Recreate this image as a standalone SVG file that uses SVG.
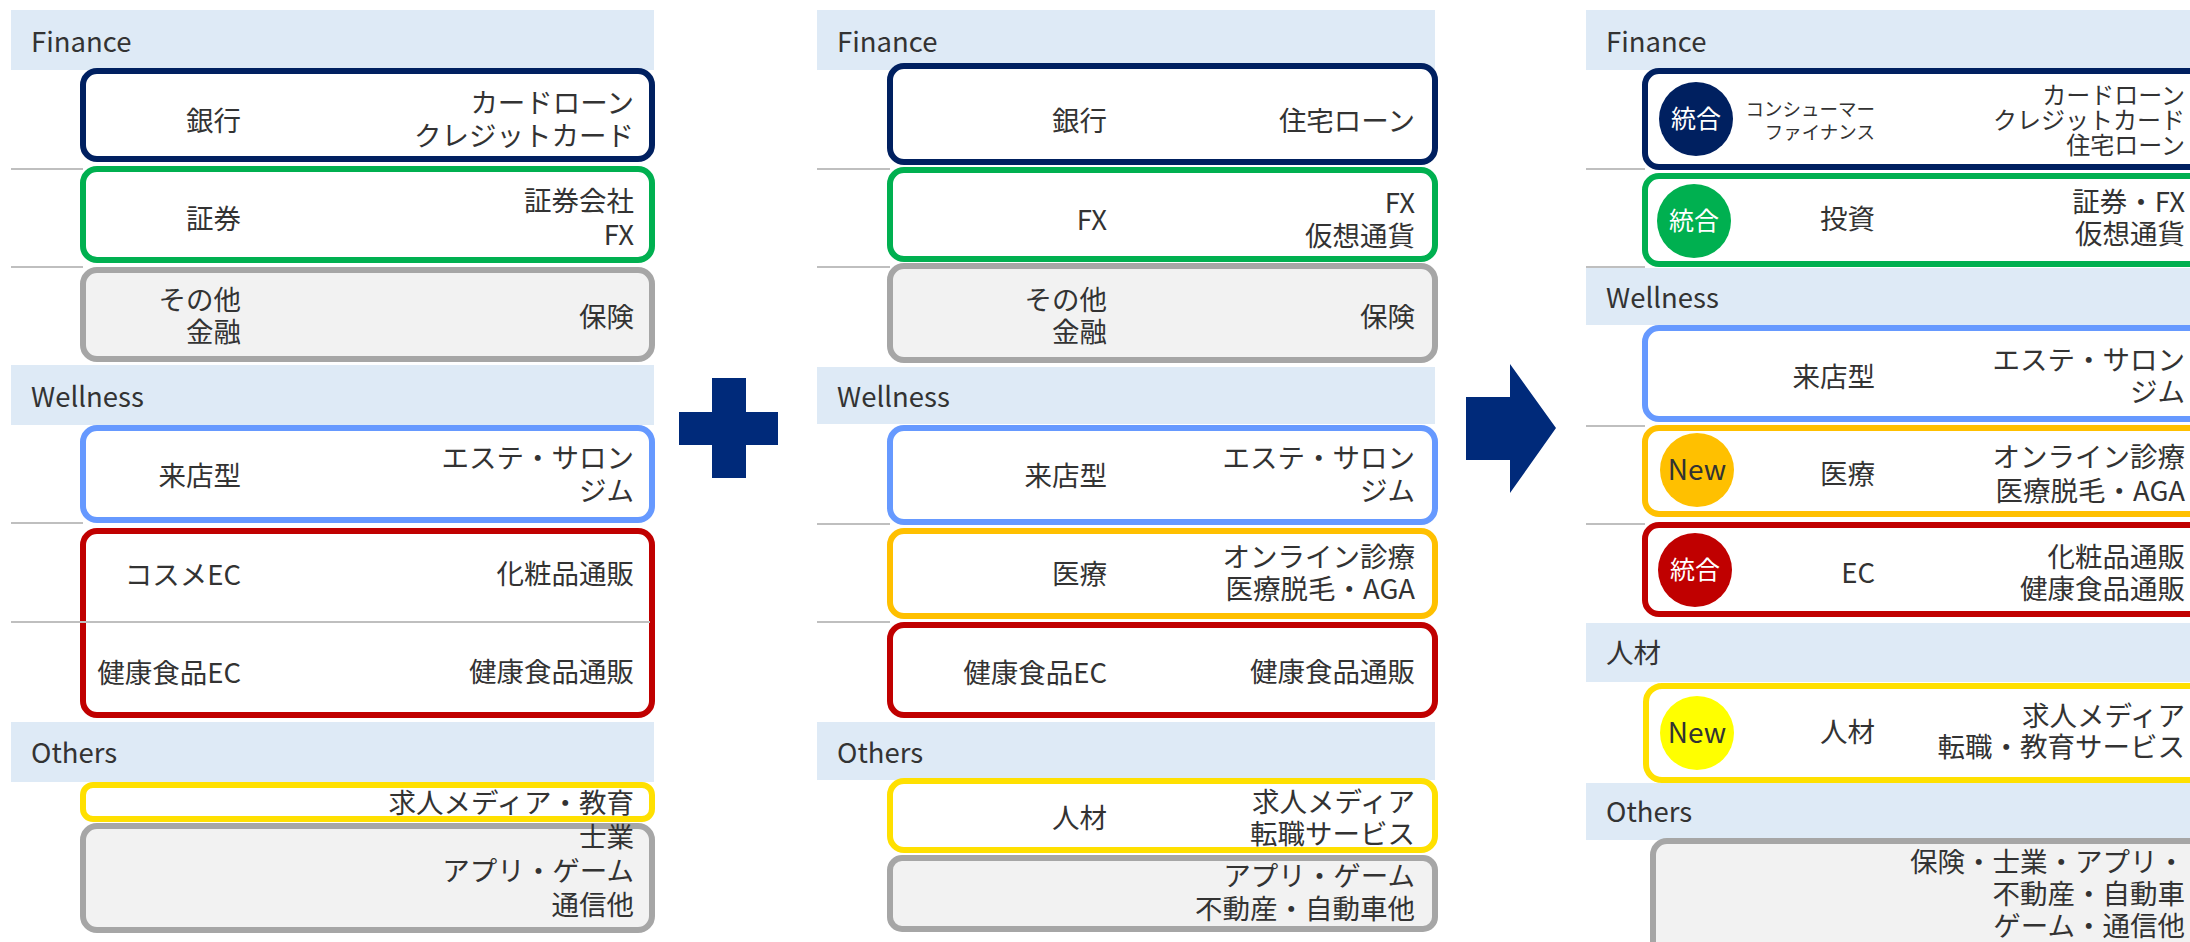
<svg xmlns="http://www.w3.org/2000/svg" width="2190" height="942" viewBox="0 0 2190 942">
<style>
text{font-family:"Noto Sans CJK JP","Noto Sans",sans-serif;fill:#333333;font-size:27.5px}
.band{fill:#DEEAF6}
.sep{stroke:#BFBFBF;stroke-width:2}
.box{fill:#FFFFFF;stroke-width:6}
.navy{stroke:#002060}.green{stroke:#00B050}.gray{stroke:#A6A6A6;fill:#F2F2F2}
.blue{stroke:#6699FF}.orange{stroke:#FFC000}.red{stroke:#C00000}.yel{stroke:#FFE000}
.r{text-anchor:end}
.c{text-anchor:middle}
.sm{font-size:24px}
.xs{font-size:18.5px}
.badge{font-size:25px}
.new{font-size:28px}
.w{fill:#FFFFFF}
.mark{fill:#002A7A}
</style>
<rect width="2190" height="942" fill="#FFFFFF"/>

<g id="col-left">
  <g id="l-finance"><rect class="band" x="11" y="10" width="643" height="60"/><text x="31" y="52">Finance</text></g>
  <g id="l-seps">
    <line class="sep" x1="11" y1="169" x2="83" y2="169"/>
    <line class="sep" x1="11" y1="267" x2="83" y2="267"/>
  </g>
  <g id="l-bank"><rect class="box navy" x="83" y="71" width="569" height="88" rx="14"/>
    <text class="r" x="241" y="131">銀行</text>
    <text class="r" x="634" y="113">カードローン</text><text class="r" x="634" y="146">クレジットカード</text></g>
  <g id="l-sec"><rect class="box green" x="83" y="169" width="569" height="91" rx="14"/>
    <text class="r" x="241" y="229">証券</text>
    <text class="r" x="634" y="211">証券会社</text><text class="r" x="634" y="245">FX</text></g>
  <g id="l-other-fin"><rect class="box gray" x="83" y="270" width="569" height="89" rx="14"/>
    <text class="r" x="241" y="310">その他</text><text class="r" x="241" y="342">金融</text>
    <text class="r" x="634" y="327">保険</text></g>
  <g id="l-wellness"><rect class="band" x="11" y="365" width="643" height="60"/><text x="31" y="407">Wellness</text></g>
  <line class="sep" x1="11" y1="523" x2="83" y2="523"/>
  <g id="l-store"><rect class="box blue" x="83" y="428" width="569" height="92" rx="14"/>
    <text class="r" x="241" y="486">来店型</text>
    <text class="r" x="634" y="468">エステ・サロン</text><text class="r" x="634" y="501">ジム</text></g>
  <g id="l-ec"><rect class="box red" x="83" y="531" width="569" height="184" rx="14"/>
    <line class="sep" x1="11" y1="622" x2="650" y2="622"/>
    <text class="r" x="241" y="585">コスメEC</text><text class="r" x="634" y="584">化粧品通販</text>
    <text class="r" x="241" y="683">健康食品EC</text><text class="r" x="634" y="682">健康食品通販</text></g>
  <g id="l-others"><rect class="band" x="11" y="722" width="643" height="60"/><text x="31" y="763">Others</text></g>
  <g id="l-job"><rect class="box yel" x="83" y="785" width="569" height="34" rx="10"/>
    <text class="r" x="634" y="813">求人メディア・教育</text></g>
  <g id="l-misc"><rect class="box gray" x="83" y="826" width="569" height="104" rx="14"/>
    <text class="r" x="634" y="847">士業</text><text class="r" x="634" y="881">アプリ・ゲーム</text><text class="r" x="634" y="915">通信他</text></g>
</g>

<g id="plus"><path class="mark" d="M712 378H746V412H778V445H746V478H712V445H679V412H712Z"/></g>

<g id="col-mid">
  <g id="m-finance"><rect class="band" x="817" y="10" width="618" height="60"/><text x="837" y="52">Finance</text></g>
  <g id="m-seps">
    <line class="sep" x1="817" y1="169" x2="890" y2="169"/>
    <line class="sep" x1="817" y1="267" x2="890" y2="267"/>
    <line class="sep" x1="817" y1="524" x2="890" y2="524"/>
    <line class="sep" x1="817" y1="622" x2="890" y2="622"/>
  </g>
  <g id="m-bank"><rect class="box navy" x="890" y="66" width="545" height="96" rx="14"/>
    <text class="r" x="1107" y="131">銀行</text><text class="r" x="1415" y="131">住宅ローン</text></g>
  <g id="m-fx"><rect class="box green" x="890" y="170" width="545" height="89" rx="14"/>
    <text class="r" x="1107" y="230">FX</text>
    <text class="r" x="1415" y="213">FX</text><text class="r" x="1415" y="246">仮想通貨</text></g>
  <g id="m-other-fin"><rect class="box gray" x="890" y="266" width="545" height="94" rx="14"/>
    <text class="r" x="1107" y="310">その他</text><text class="r" x="1107" y="342">金融</text>
    <text class="r" x="1415" y="327">保険</text></g>
  <g id="m-wellness"><rect class="band" x="817" y="367" width="618" height="57"/><text x="837" y="407">Wellness</text></g>
  <g id="m-store"><rect class="box blue" x="890" y="428" width="545" height="94" rx="14"/>
    <text class="r" x="1107" y="486">来店型</text>
    <text class="r" x="1415" y="468">エステ・サロン</text><text class="r" x="1415" y="501">ジム</text></g>
  <g id="m-med"><rect class="box orange" x="890" y="531" width="545" height="85" rx="14"/>
    <text class="r" x="1107" y="584">医療</text>
    <text class="r" x="1415" y="567">オンライン診療</text><text class="r" x="1415" y="599">医療脱毛・AGA</text></g>
  <g id="m-ec"><rect class="box red" x="890" y="625" width="545" height="90" rx="14"/>
    <text class="r" x="1107" y="683">健康食品EC</text><text class="r" x="1415" y="682">健康食品通販</text></g>
  <g id="m-others"><rect class="band" x="817" y="722" width="618" height="58"/><text x="837" y="763">Others</text></g>
  <g id="m-job"><rect class="box yel" x="890" y="781" width="545" height="69" rx="14"/>
    <text class="r" x="1107" y="828">人材</text>
    <text class="r" x="1415" y="812">求人メディア</text><text class="r" x="1415" y="844">転職サービス</text></g>
  <g id="m-misc"><rect class="box gray" x="890" y="858" width="545" height="71" rx="12"/>
    <text class="r" x="1415" y="886">アプリ・ゲーム</text><text class="r" x="1415" y="919">不動産・自動車他</text></g>
</g>

<g id="arrow"><path class="mark" d="M1466 397H1510V364L1556 428L1510 493V460H1466Z"/></g>

<g id="col-right">
  <g id="r-finance"><rect class="band" x="1586" y="10" width="620" height="60"/><text x="1606" y="52">Finance</text></g>
  <g id="r-seps">
    <line class="sep" x1="1586" y1="169" x2="1645" y2="169"/>
    <line class="sep" x1="1586" y1="267" x2="1645" y2="267"/>
    <line class="sep" x1="1586" y1="426" x2="1645" y2="426"/>
    <line class="sep" x1="1586" y1="524" x2="1645" y2="524"/>
  </g>
  <g id="r-consumer"><rect class="box navy" x="1645" y="71" width="580" height="96" rx="14"/>
    <circle cx="1696" cy="119" r="37" fill="#002060"/><text class="c badge w" x="1696" y="128">統合</text>
    <text class="r xs" x="1875" y="116">コンシューマー</text><text class="r xs" x="1875" y="139">ファイナンス</text>
    <text class="r sm" x="2185" y="104">カードローン</text><text class="r sm" x="2185" y="129">クレジットカード</text><text class="r sm" x="2185" y="154">住宅ローン</text></g>
  <g id="r-invest"><rect class="box green" x="1645" y="176" width="580" height="88" rx="14"/>
    <circle cx="1694" cy="221" r="37" fill="#00B050"/><text class="c badge w" x="1694" y="230">統合</text>
    <text class="r" x="1875" y="229">投資</text>
    <text class="r" x="2185" y="212">証券・FX</text><text class="r" x="2185" y="244">仮想通貨</text></g>
  <g id="r-wellness"><rect class="band" x="1586" y="268" width="620" height="57"/><text x="1606" y="308">Wellness</text></g>
  <g id="r-store"><rect class="box blue" x="1645" y="328" width="580" height="91" rx="14"/>
    <text class="r" x="1875" y="387">来店型</text>
    <text class="r" x="2185" y="370">エステ・サロン</text><text class="r" x="2185" y="402">ジム</text></g>
  <g id="r-med"><rect class="box orange" x="1645" y="428" width="580" height="86" rx="14"/>
    <circle cx="1697" cy="470" r="37" fill="#FFC000"/><text class="c new" x="1697" y="480">New</text>
    <text class="r" x="1875" y="484">医療</text>
    <text class="r" x="2185" y="467">オンライン診療</text><text class="r" x="2185" y="501">医療脱毛・AGA</text></g>
  <g id="r-ec"><rect class="box red" x="1645" y="525" width="580" height="89" rx="14"/>
    <circle cx="1695" cy="570" r="37" fill="#C00000"/><text class="c badge w" x="1695" y="579">統合</text>
    <text class="r" x="1875" y="583">EC</text>
    <text class="r" x="2185" y="567">化粧品通販</text><text class="r" x="2185" y="599">健康食品通販</text></g>
  <g id="r-hr-band"><rect class="band" x="1586" y="623" width="620" height="59"/><text x="1606" y="663">人材</text></g>
  <g id="r-hr"><rect class="box yel" x="1646" y="686" width="580" height="94" rx="16"/>
    <circle cx="1697" cy="733" r="37" fill="#FFFF00"/><text class="c new" x="1697" y="743">New</text>
    <text class="r" x="1875" y="742">人材</text>
    <text class="r" x="2185" y="726">求人メディア</text><text class="r" x="2185" y="757">転職・教育サービス</text></g>
  <g id="r-others"><rect class="band" x="1586" y="783" width="620" height="57"/><text x="1606" y="822">Others</text></g>
  <g id="r-misc"><rect class="box gray" x="1653" y="841" width="580" height="130" rx="14"/>
    <text class="r" x="2185" y="872">保険・士業・アプリ・</text><text class="r" x="2185" y="904">不動産・自動車</text><text class="r" x="2185" y="936">ゲーム・通信他</text></g>
</g>
</svg>
